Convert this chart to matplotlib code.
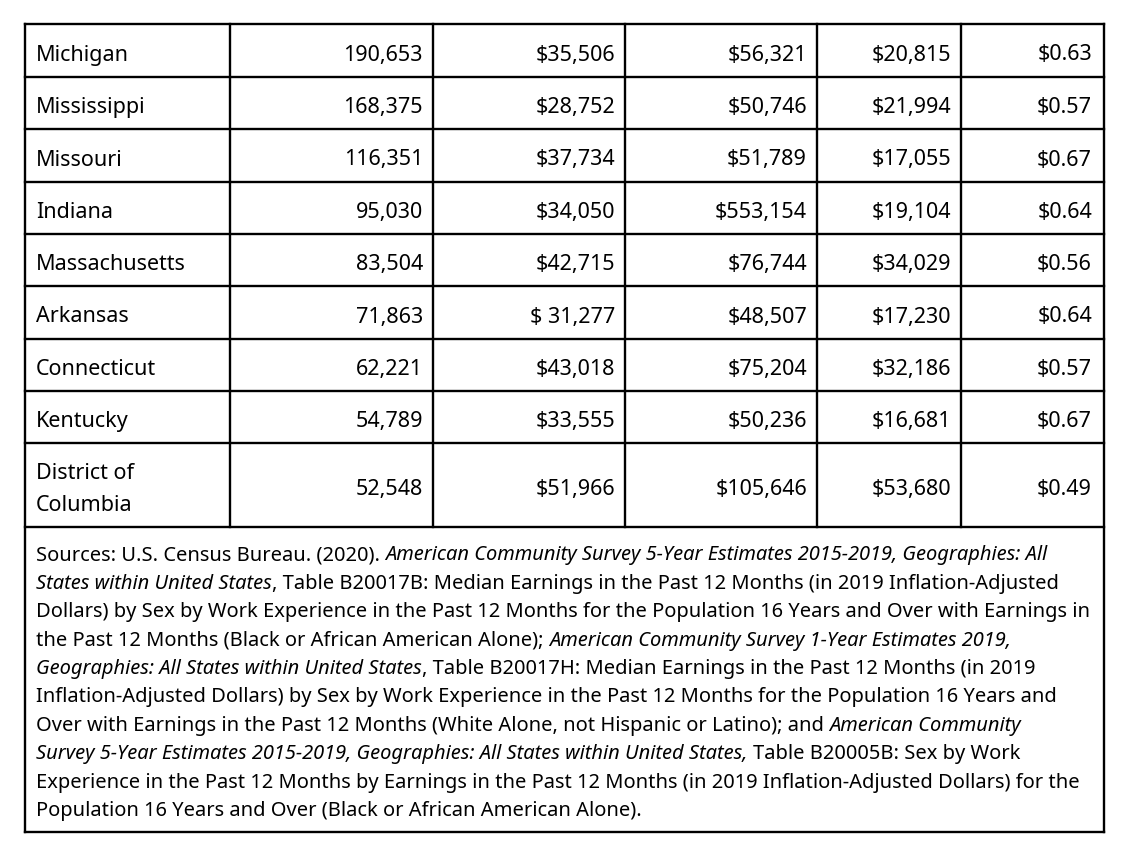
import matplotlib.pyplot as plt

# table values
states = ["Michigan", "Mississippi", "Missouri", "Indiana", "Massachusetts",
          "Arkansas", "Connecticut", "Kentucky", "District of\nColumbia"]
black_workers = [190653, 168375, 116351, 95030, 83504, 71863, 62221, 54789, 52548]
black_median = [35506, 28752, 37734, 34050, 42715, 31277, 43018, 33555, 51966]
white_median = [56321, 50746, 51789, 553154, 76744, 48507, 75204, 50236, 105646]
pay_gap = [20815, 21994, 17055, 19104, 34029, 17230, 32186, 16681, 53680]
cents_per_dollar = [0.63, 0.57, 0.67, 0.64, 0.56, 0.64, 0.57, 0.67, 0.49]
spaced_dollar = ["Arkansas"]  # printed as "$ 31,277" in the source

# source note: (text, italic?) runs per printed line
note_lines = [
    [("Sources: U.S. Census Bureau. (2020). ", False),
     ("American Community Survey 5-Year Estimates 2015-2019, Geographies: All", True)],
    [("States within United States", True),
     (", Table B20017B: Median Earnings in the Past 12 Months (in 2019 Inflation-Adjusted", False)],
    [("Dollars) by Sex by Work Experience in the Past 12 Months for the Population 16 Years and Over with Earnings in", False)],
    [("the Past 12 Months (Black or African American Alone); ", False),
     ("American Community Survey 1-Year Estimates 2019,", True)],
    [("Geographies: All States within United States", True),
     (", Table B20017H: Median Earnings in the Past 12 Months (in 2019", False)],
    [("Inflation-Adjusted Dollars) by Sex by Work Experience in the Past 12 Months for the Population 16 Years and", False)],
    [("Over with Earnings in the Past 12 Months (White Alone, not Hispanic or Latino); and ", False),
     ("American Community", True)],
    [("Survey 5-Year Estimates 2015-2019, Geographies: All States within United States,", True),
     (" Table B20005B: Sex by Work", False)],
    [("Experience in the Past 12 Months by Earnings in the Past 12 Months (in 2019 Inflation-Adjusted Dollars) for the", False)],
    [("Population 16 Years and Over (Black or African American Alone).", False)],
]

FONT = "Noto Sans"
plt.rcParams['font.family'] = FONT

fig = plt.figure(figsize=(11.24, 8.6), dpi=100)
ax = fig.add_axes([0, 0, 1, 1])
ax.set_xlim(0, 1124)
ax.set_ylim(860, 0)
ax.axis('off')
renderer = fig.canvas.get_renderer()

cols = [25, 230, 433, 625, 817, 961, 1104]
rows = [24, 77, 129, 182, 234, 286, 339, 391, 443, 527]
bottom = 832
lw = 1.7

# grid
for y in rows:
    ax.plot([cols[0], cols[-1]], [y, y], color='black', lw=lw, solid_capstyle='projecting')
ax.plot([cols[0], cols[-1]], [bottom, bottom], color='black', lw=lw, solid_capstyle='projecting')
for i, x in enumerate(cols):
    y_end = bottom if i in (0, len(cols) - 1) else rows[-1]
    ax.plot([x, x], [rows[0], y_end], color='black', lw=lw, solid_capstyle='projecting')

size = 15.5
pad_l, pad_r = 11, 10
for i, st in enumerate(states):
    center = (rows[i] + rows[i + 1]) / 2
    base = center + 10
    parts = st.split("\n")
    for k, p in enumerate(parts):
        ax.text(cols[0] + pad_l, base + (k - (len(parts) - 1) / 2) * 32, p,
                fontsize=size, va='baseline', ha='left')
    dollar = "$ " if st in spaced_dollar else "$"
    cells = [f"{black_workers[i]:,}",
             f"{dollar}{black_median[i]:,}",
             f"${white_median[i]:,}",
             f"${pay_gap[i]:,}",
             f"${cents_per_dollar[i]:.2f}"]
    for j, c in enumerate(cells):
        pr = 12 if j == 4 else pad_r
        ax.text(cols[j + 2] - pr, base, c, fontsize=size, va='baseline', ha='right')


def width(txt, sz, italic):
    t = ax.text(0, 0, txt, fontsize=sz, style='italic' if italic else 'normal')
    w = t.get_window_extent(renderer).width
    t.remove()
    return w


def line_width(runs, sz):
    total = 0
    for txt, it in runs:
        sp = width("x x", sz, it) - width("xx", sz, it)
        total += width(txt.strip(), sz, it)
        total += sp * ((len(txt) - len(txt.lstrip())) + (len(txt) - len(txt.rstrip())))
    return total


# fit the paragraph to the reference's widest line
note_size = 10 * 1048 / line_width(note_lines[2], 10)
x0 = 36
for n, runs in enumerate(note_lines):
    y = 816 - 28.4 * (len(note_lines) - 1 - n)
    x = x0
    for txt, it in runs:
        sp = width("x x", note_size, it) - width("xx", note_size, it)
        x += sp * (len(txt) - len(txt.lstrip()))
        core = txt.strip()
        ax.text(x, y, core, fontsize=note_size, style='italic' if it else 'normal',
                va='baseline', ha='left')
        x += width(core, note_size, it)
        x += sp * (len(txt) - len(txt.rstrip()))

fig.savefig("out.png", dpi=100, facecolor='white')
